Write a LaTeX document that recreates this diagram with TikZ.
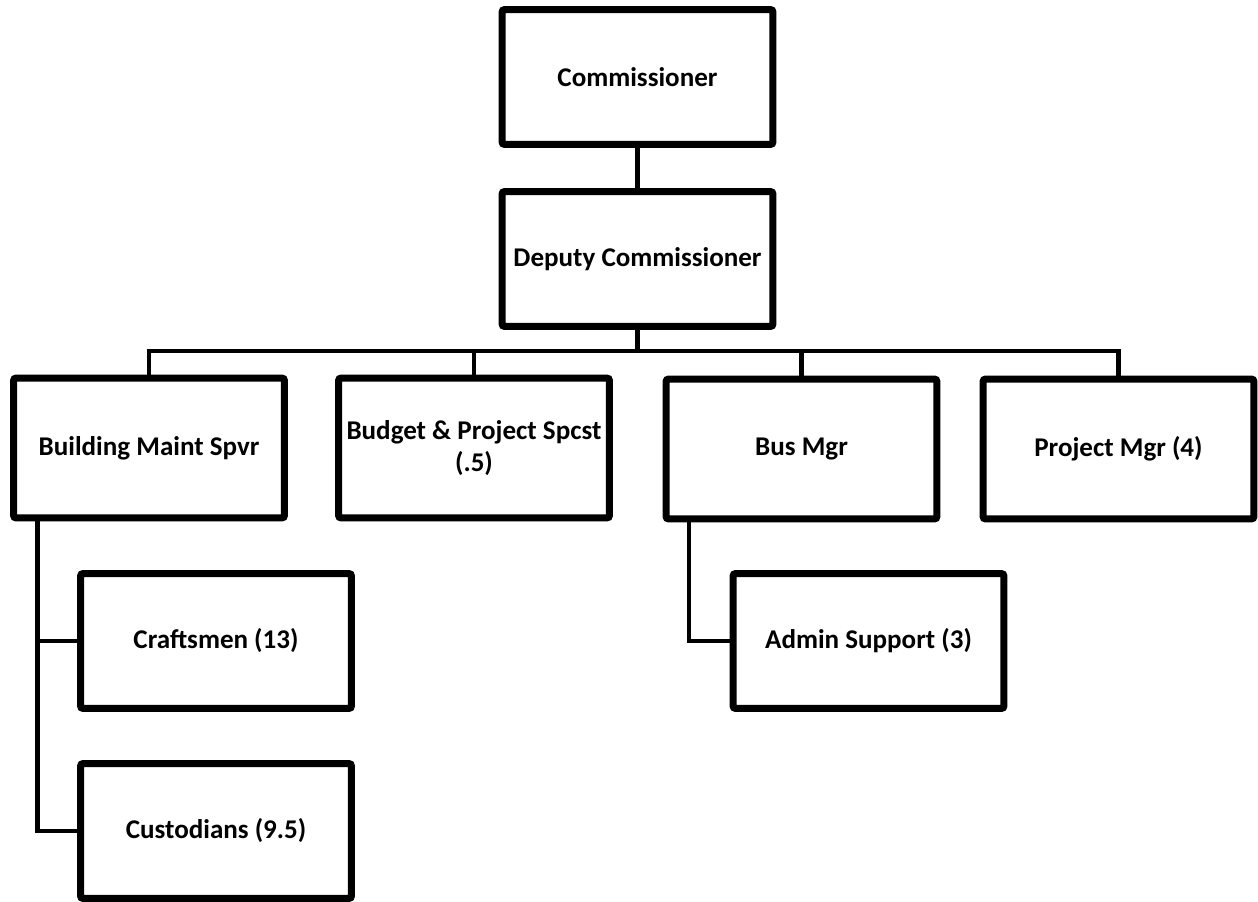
\documentclass[tikz,border=0pt]{standalone}
\usepackage{fontspec}
\setmainfont{Carlito}
\usepackage{tikz}
\usetikzlibrary{positioning}

\begin{document}
\begin{tikzpicture}[
  x=0.02cm, y=-0.02cm,
  font=\fontsize{15.4}{18.5}\selectfont\bfseries,
  every node/.style={align=center},
  post/.style  ={rectangle, rounded corners=1.5pt, draw=black,
                 line width=0.14cm, fill=white,
                 minimum width=5.42cm, minimum height=2.7cm},
  mid/.style   ={post, minimum height=2.8cm},
  link/.style  ={draw=black, line width=0.09cm},
]
\useasboundingbox (0,0) rectangle (1258,902);

% Top of the chart
\node[post] (comm)   at (637.5, 77)  {Commissioner};
\node[post] (deputy) at (637.5, 259) {Deputy Commissioner};

% Units under the deputy
\node[mid]  (bldg)    at (149, 448)   {Building Maint Spvr};
\node[mid]  (budget)  at (474, 448)   {Budget \& Project Spcst\\(.5)};
\node[mid]  (busmgr)  at (801.5, 449) {Bus Mgr};
\node[mid]  (projmgr) at (1118.5, 449){Project Mgr (4)};

% Staff boxes
\node[post] (crafts) at (216, 641)   {Craftsmen (13)};
\node[post] (cust)   at (216, 831)   {Custodians (9.5)};
\node[post] (admin)  at (868.5, 641) {Admin Support (3)};

% Bus line and spines
\coordinate (bus) at (637.5, 351);
\coordinate (bspine) at ([xshift=0.55cm]bldg.south west);
\coordinate (aspine) at ([xshift=0.53cm]busmgr.south west);

% Connectors
\draw[link] (comm.south) -- (deputy.north);
\draw[link] (deputy.south) -- (bus);
\draw[link] (bldg.north) |- (bus) -| (projmgr.north);
\draw[link] (budget.north) -- (budget.north |- bus);
\draw[link] (busmgr.north) -- (busmgr.north |- bus);
\draw[link] (bspine) |- (crafts.west);
\draw[link] (bspine) |- (cust.west);
\draw[link] (aspine) |- (admin.west);

\end{tikzpicture}
\end{document}
